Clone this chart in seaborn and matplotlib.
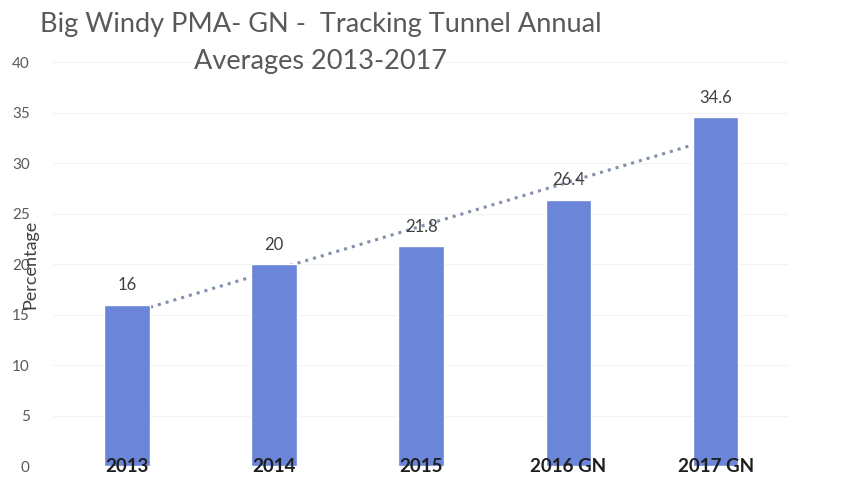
import numpy as np
import pandas as pd
import seaborn as sns
import matplotlib.pyplot as plt

# data
years = ['2013', '2014', '2015', '2016 GN', '2017 GN']
averages = [16, 20, 21.8, 26.4, 34.6]
y_ticks = [0, 5, 10, 15, 20, 25, 30, 35, 40]

df = pd.DataFrame({'year': years, 'avg': averages})

sns.set_theme(style='white')
plt.rcParams['font.family'] = ['Lato', 'DejaVu Sans']

fig = plt.figure(figsize=(8.45, 4.82), dpi=100)
ax = fig.add_axes([0.063, 0.033, 0.871, 0.838])

sns.barplot(data=df, x='year', y='avg', color='#6b85d8', saturation=1,
            width=0.31, ax=ax, zorder=3)

# linear trendline like excel, behind the bars
sns.regplot(x=np.arange(len(years)), y=averages, scatter=False, ci=None,
            truncate=True, ax=ax,
            line_kws=dict(color='#8390ad', linestyle=':', linewidth=2.2, zorder=2))

for i, v in enumerate(averages):
    ax.text(i, v + 1.1, f'{v:g}', ha='center', va='bottom', fontsize=12, color='#404040', zorder=4)
    ax.text(i, 0, years[i], ha='center', va='center', fontsize=13.5, fontweight='bold',
            color='#1e1e1e', zorder=5)

ax.set_ylim(0, 40)
ax.set_xlim(-0.5, len(years) - 0.5)
ax.set_yticks(y_ticks)
ax.set_xticks([])
ax.set_xlabel('')
ax.tick_params(axis='y', labelsize=11, labelcolor='#595959', pad=17, length=0)
ax.yaxis.grid(True, color='#f3f3f3', linewidth=0.8, zorder=0)
ax.set_axisbelow(True)
for s in ax.spines.values():
    s.set_visible(False)

ax.set_ylabel('Percentage', fontsize=13, color='#404040')
ax.yaxis.set_label_coords(-0.02, 0.5)

fig.text(321 / 845, 0.975, 'Big Windy PMA- GN -  Tracking Tunnel Annual\nAverages 2013-2017',
         ha='center', va='top', fontsize=19.5, color='#595959', linespacing=1.6)

fig.savefig('out.png', dpi=100)
